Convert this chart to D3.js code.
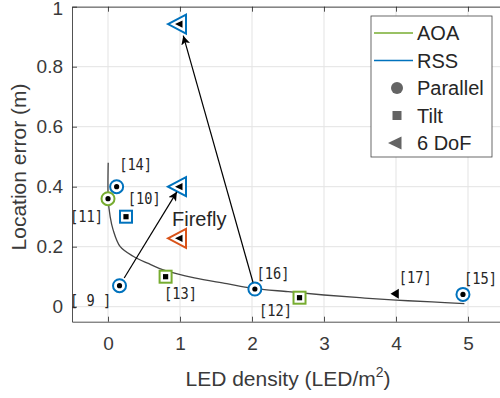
<!DOCTYPE html>
<html>
<head>
<meta charset="utf-8">
<script src="https://cdn.jsdelivr.net/npm/d3@7"></script>
<style>
  body { margin: 0; background: #fff; }
  svg { display: block; font-family: 'Liberation Sans', Arial, sans-serif; }
</style>
</head>
<body>
<svg id="chart" width="500" height="398"></svg>
<script>
// measured points, one entry per cited system
const densities = [0.12, 0.0, 0.25, 0.16, 1.0, 1.0, 0.80, 2.04, 1.0, 2.66, 4.0, 4.93]
const errors    = [0.40, 0.36, 0.30, 0.07, 0.40, 0.228, 0.10, 0.059, 0.942, 0.03, 0.043, 0.041]
const methods   = ['RSS', 'AOA', 'RSS', 'RSS', 'RSS', 'Firefly', 'AOA', 'RSS', 'RSS', 'AOA', 'None', 'RSS']
const setups    = ['Parallel', 'Parallel', 'Tilt', 'Parallel', '6 DoF', '6 DoF', 'Tilt', 'Parallel', '6 DoF', 'Tilt', '6 DoF', 'Parallel']
const refLabels = ['[14]', '[11]', '[10]', '[ 9 ]', '', 'Firefly', '[13]', '[16]', '', '[12]', '[17]', '[15]']

// trade-off curve
const fitDensity = [0.003, 0.003, 0.03, 0.07, 0.17, 0.35, 0.55, 0.8, 1.2, 1.65, 2.0, 2.5, 3.0, 3.5, 4.0, 4.5, 4.95]
const fitError   = [0.48, 0.36, 0.30, 0.257, 0.20, 0.168, 0.145, 0.12, 0.096, 0.077, 0.062, 0.05, 0.039, 0.03, 0.022, 0.016, 0.01]

// arrows: from point index -> to point index
const arrowPairs = [[3, 4], [7, 8]]

const xTicks = [0, 1, 2, 3, 4, 5]
const yTicks = [0, 0.2, 0.4, 0.6, 0.8, 1]
const legendLines = ['AOA', 'RSS']
const legendShapes = ['Parallel', 'Tilt', '6 DoF']

const colors = { AOA: '#77AC30', RSS: '#0072BD', Firefly: '#D95319', None: 'none' }
const axisColor = '#262626'

const svg = d3.select('#chart')
const plotLeft = 72, plotRight = 504, plotTop = 6.7, plotBottom = 321.7

const x = d3.scaleLinear().domain([-0.5, 5.5]).range([plotLeft, plotRight])
const y = d3.scaleLinear().domain([-0.05, 1]).range([plotBottom, plotTop])

// grid
svg.append('g').selectAll('line').data(xTicks).join('line')
    .attr('x1', d => x(d)).attr('x2', d => x(d))
    .attr('y1', plotTop).attr('y2', plotBottom)
    .attr('stroke', '#e3e3e3')
svg.append('g').selectAll('line').data(yTicks).join('line')
    .attr('x1', plotLeft).attr('x2', plotRight)
    .attr('y1', d => y(d)).attr('y2', d => y(d))
    .attr('stroke', '#e3e3e3')

// axes
const xAxis = svg.append('g')
    .attr('transform', `translate(0,${plotBottom})`)
    .call(d3.axisBottom(x).tickValues(xTicks).tickFormat(d3.format('d'))
        .tickSizeInner(-5).tickSizeOuter(0).tickPadding(15))
const yAxis = svg.append('g')
    .attr('transform', `translate(${plotLeft},0)`)
    .call(d3.axisLeft(y).tickValues(yTicks).tickFormat(d => d === 0 || d === 1 ? d : d3.format('.1f')(d))
        .tickSizeInner(-5).tickSizeOuter(0).tickPadding(9))
const topAxis = svg.append('g')
    .attr('transform', `translate(0,${plotTop})`)
    .call(d3.axisTop(x).tickValues(xTicks).tickFormat('').tickSizeInner(-5).tickSizeOuter(0))

for (const g of [xAxis, yAxis, topAxis]) {
    g.select('.domain').attr('stroke', axisColor).attr('stroke-width', 0.8)
    g.selectAll('.tick line').attr('stroke', axisColor).attr('stroke-width', 0.8)
    g.selectAll('.tick text').attr('fill', '#3a3a3a')
        .style('font-size', '19px').style('font-family', "'Liberation Sans', Arial, sans-serif")
}
yAxis.selectAll('.tick text').filter(d => d === 1).attr('dy', '0.42em')

// axis titles
const xTitle = svg.append('text')
    .attr('x', 288).attr('y', 386)
    .attr('text-anchor', 'middle')
    .attr('fill', '#3a3a3a')
    .style('font-size', '21px')
xTitle.append('tspan').text('LED density (LED/m')
xTitle.append('tspan').text('2').attr('dy', -9).style('font-size', '14px')
xTitle.append('tspan').text(')').attr('dy', 9)

svg.append('text')
    .attr('transform', 'translate(26,167) rotate(-90)')
    .attr('text-anchor', 'middle')
    .attr('fill', '#3a3a3a')
    .style('font-size', '21px')
    .text('Location error (m)')

// fitted curve
const curve = d3.line()
    .x((d, i) => x(fitDensity[i]))
    .y(d => y(d))
    .curve(d3.curveCatmullRom.alpha(0.5))
svg.append('path')
    .attr('d', curve(fitError))
    .attr('fill', 'none')
    .attr('stroke', '#454545')
    .attr('stroke-width', 1.3)

// marker shapes
const triOuter = 'M-12,0L6,-9.5L6,9.5Z'
const triInner = 'M-5,0L2.5,-3.6L2.5,3.6Z'
const triPlain = 'M-5.5,0L2.8,-5L2.8,5Z'

const points = densities.map((d, i) => ({
    d, e: errors[i], method: methods[i], setup: setups[i], label: refLabels[i]
}))

const marks = svg.append('g').selectAll('g').data(points).join('g')
    .attr('transform', p => `translate(${x(p.d)},${y(p.e)})`)

marks.each(function(p) {
    const g = d3.select(this)
    const c = colors[p.method]
    if (p.setup === 'Parallel') {
        g.append('circle').attr('r', 6.5).attr('fill', '#fff').attr('stroke', c).attr('stroke-width', 2)
        g.append('circle').attr('r', 2.6).attr('fill', '#000')
    } else if (p.setup === 'Tilt') {
        g.append('rect').attr('x', -6).attr('y', -6).attr('width', 12).attr('height', 12)
            .attr('fill', '#fff').attr('stroke', c).attr('stroke-width', 2)
        g.append('rect').attr('x', -2.6).attr('y', -2.6).attr('width', 5.2).attr('height', 5.2).attr('fill', '#000')
    } else if (p.method === 'None') {
        g.append('path').attr('d', triPlain).attr('fill', '#000')
    } else {
        g.append('path').attr('d', triOuter).attr('fill', '#fff').attr('stroke', c)
            .attr('stroke-width', 2).attr('stroke-linejoin', 'miter')
        g.append('path').attr('d', triInner).attr('fill', '#000')
    }
})

// arrows
svg.append('defs').append('marker')
    .attr('id', 'head')
    .attr('viewBox', '0 0 10 10')
    .attr('refX', 10).attr('refY', 5)
    .attr('markerWidth', 9).attr('markerHeight', 9)
    .attr('markerUnits', 'userSpaceOnUse')
    .attr('orient', 'auto')
    .append('path').attr('d', 'M0,0L10,5L0,10L2.5,5Z').attr('fill', '#000')

const arrowTrim = [[9, 6], [7, 12]]
arrowPairs.forEach(([a, b], i) => {
    const x1 = x(densities[a]), y1 = y(errors[a])
    const x2 = x(densities[b]), y2 = y(errors[b])
    const len = Math.hypot(x2 - x1, y2 - y1)
    const ux = (x2 - x1) / len, uy = (y2 - y1) / len
    svg.append('line')
        .attr('x1', x1 + ux * arrowTrim[i][0]).attr('y1', y1 + uy * arrowTrim[i][0])
        .attr('x2', x2 - ux * arrowTrim[i][1]).attr('y2', y2 - uy * arrowTrim[i][1])
        .attr('stroke', '#000').attr('stroke-width', 1.2)
        .attr('marker-end', 'url(#head)')
})

// reference labels (offsets in px from each point)
const labelOffset = [[2.5, -23], [-38, 17], [1.7, -18.7], [-49.5, 14], [0, 0], [-8, -20],
                     [-1.6, 16], [1.7, -16.3], [0, 0], [-40.5, 12], [2.7, -17], [1, -16.6]]
svg.append('g').selectAll('text').data(points).join('text')
    .attr('transform', (p, i) => {
        const tx = x(p.d) + labelOffset[i][0], ty = y(p.e) + labelOffset[i][1]
        return p.label === 'Firefly' ? `translate(${tx},${ty})` : `translate(${tx},${ty}) scale(0.83,1)`
    })
    .attr('dy', '0.36em')
    .attr('fill', '#262626')
    .style('font-family', p => p.label === 'Firefly' ? "'Liberation Sans', Arial, sans-serif" : "'DejaVu Sans Mono', monospace")
    .style('font-size', p => p.label === 'Firefly' ? '20px' : '16.5px')
    .style('white-space', 'pre')
    .text(p => p.label)

// legend
const legend = svg.append('g')
legend.append('rect')
    .attr('x', 371).attr('y', 16).attr('width', 121).attr('height', 141)
    .attr('fill', '#fff').attr('stroke', '#444').attr('stroke-width', 0.8)

legendLines.forEach((name, i) => {
    const ly = 33 + i * 27.5
    legend.append('line')
        .attr('x1', 374).attr('x2', 413).attr('y1', ly).attr('y2', ly)
        .attr('stroke', colors[name]).attr('stroke-width', 1.5)
    legend.append('text').attr('x', 417).attr('y', ly).attr('dy', '0.35em')
        .attr('fill', '#262626').style('font-size', '20px').text(name)
})
legendShapes.forEach((name, i) => {
    const ly = 88 + i * 27.5
    const g = legend.append('g').attr('transform', `translate(397,${ly})`)
    if (name === 'Parallel') g.append('circle').attr('r', 6).attr('fill', '#646464')
    else if (name === 'Tilt') g.append('rect').attr('x', -4.5).attr('y', -4.5).attr('width', 9).attr('height', 9).attr('fill', '#646464')
    else g.append('path').attr('d', 'M-9,0L4.5,-6.5L4.5,6.5Z').attr('fill', '#646464')
    legend.append('text').attr('x', 417).attr('y', ly).attr('dy', '0.35em')
        .attr('fill', '#262626').style('font-size', '20px').text(name)
})
</script>
</body>
</html>
